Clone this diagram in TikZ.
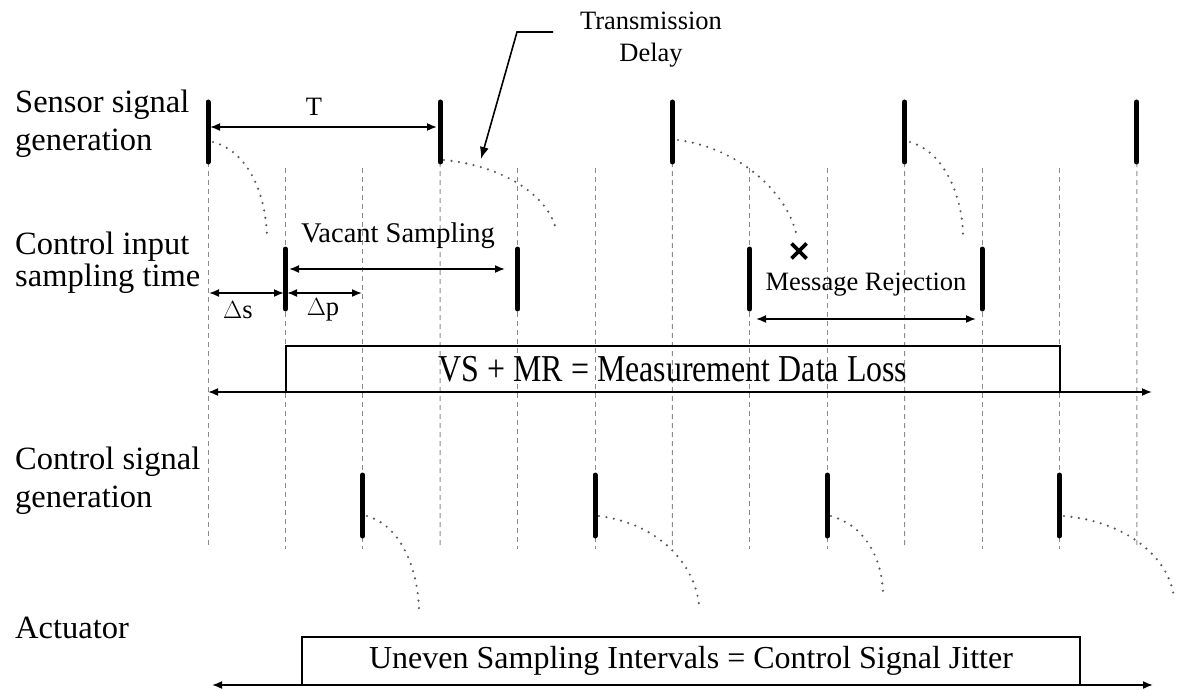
\documentclass[tikz,border=0pt]{standalone}
\usepackage{fontspec}
\setmainfont{Liberation Serif}
\newfontfamily\narrowserif[FakeStretch=0.84]{Liberation Serif}
\usetikzlibrary{arrows.meta,calc}
\begin{document}
\begin{tikzpicture}[x=1pt,y=-1pt,
  gridline/.style={black!45, line width=1pt, dash pattern=on 5pt off 4pt},
  tick/.style={line width=5pt, line cap=round},
  delay/.style={black!65, line width=2.4pt, line cap=round, dash pattern=on 0pt off 7.5pt},
  dim/.style={line width=1.7pt, {Latex[length=10pt,width=8pt]}-{Latex[length=10pt,width=8pt]}},
  lead/.style={line width=1.6pt, -{Latex[length=12pt,width=9pt]}},
  lbl/.style={font=\fontsize{32.5}{38}\selectfont, align=left, inner sep=0pt},
  small/.style={font=\fontsize{26.5}{32}\selectfont, inner sep=0pt},
  band/.style={draw, line width=1.6pt, inner sep=0pt, font=\fontsize{32}{36}\selectfont},
]
\useasboundingbox (0,0) rectangle (1177,690);

% ---- time grid ----
\foreach \i in {0,...,12}{
  \pgfmathsetmacro\gx{208+77.4*\i}
  \coordinate (g\i) at (\gx,168);
  \coordinate (h\i) at (\gx,549);
}
\foreach \i in {1,2,4,5,7,8,10,11} \draw[gridline] (g\i) -- (h\i);

% ---- row labels ----
\node[lbl, anchor=west] (lsensor)  at (15,124) {Sensor signal\\generation};
\node[lbl, anchor=west, font=\fontsize{32.5}{32}\selectfont] (linput) at (15,263) {Control input\\sampling time};
\node[lbl, anchor=west] (lcontrol) at (15,481) {Control signal\\generation};
\node[lbl, anchor=base west] (lact) at (15,638) {Actuator};

% ---- sensor signal generation ----
\foreach \k/\i in {0/0,1/3,2/6,3/9,4/12}{
  \pgfmathsetmacro\sx{208+232.2*\k}
  \coordinate (st\k) at (\sx,102);
  \coordinate (sb\k) at (\sx,162);
  \draw[gridline] (sb\k) -- (h\i);
  \draw[tick] (st\k) -- (sb\k);
}

% ---- control input sampling ----
\foreach \k in {0,...,3}{
  \pgfmathsetmacro\cx{285.4+232.2*\k}
  \coordinate (ct\k) at (\cx,249);
  \coordinate (cb\k) at (\cx,309);
}
\foreach \k in {0,1,2,3} \draw[tick] (ct\k) -- (cb\k);

% ---- control signal generation ----
\foreach \k in {0,...,3}{
  \pgfmathsetmacro\ux{362.8+232.2*\k}
  \coordinate (ut\k) at (\ux,475);
  \coordinate (ub\k) at (\ux,536);
}
\foreach \k in {0,1,2,3} \draw[tick] (ut\k) -- (ub\k);

% ---- transmission delays, sensor -> controller ----
\coordinate (d0a) at (213,142); \coordinate (d0b) at (267,240);
\coordinate (d1a) at (444,160); \coordinate (d1b) at (555,226);
\coordinate (d2a) at (678,140); \coordinate (d2b) at (797,238);
\coordinate (d3a) at (910,142); \coordinate (d3b) at (963,237);
\draw[delay] (d0a) .. controls (250,152) and (267,198) .. (d0b);
\draw[delay] (d1a) .. controls (505,166) and (546,196) .. (d1b);
\draw[delay] (d2a) .. controls (740,148) and (790,195) .. (d2b);
\draw[delay] (d3a) .. controls (945,152) and (963,198) .. (d3b);

% ---- transmission delays, controller -> actuator ----
\coordinate (e0a) at (367,516); \coordinate (e0b) at (419,613);
\coordinate (e1a) at (599,516); \coordinate (e1b) at (699,605);
\coordinate (e2a) at (831,516); \coordinate (e2b) at (883,596);
\coordinate (e3a) at (1064,516); \coordinate (e3b) at (1174,598);
\draw[delay] (e0a) .. controls (402,526) and (419,572) .. (e0b);
\draw[delay] (e1a) .. controls (660,524) and (695,565) .. (e1b);
\draw[delay] (e2a) .. controls (866,526) and (883,560) .. (e2b);
\draw[delay] (e3a) .. controls (1130,522) and (1170,560) .. (e3b);

% ---- rejected message ----
\coordinate (xc) at (799,251);
\draw[line width=3.8pt] ($(xc)+(-7.5,-7.5)$) -- ($(xc)+(7.5,7.5)$);
\draw[line width=3.8pt] ($(xc)+(-7.5,7.5)$) -- ($(xc)+(7.5,-7.5)$);

% ---- period T ----
\coordinate (T0) at (210,127); \coordinate (T1) at (437,127);
\draw[dim] (T0) -- (T1);
\node[small] (tlab) at (314,107) {T};

% ---- transmission delay leader ----
\node[small, align=center] (td) at (651,40) {Transmission\\Delay};
\coordinate (tdl) at (553,32); \coordinate (tdk) at (517,32); \coordinate (tdt) at (481,159);
\draw[lead] (tdl) -- (tdk) -- (tdt);

% ---- vacant sampling and offsets ----
\coordinate (vs0) at (289,269); \coordinate (vs1) at (505,269);
\draw[dim] (vs0) -- (vs1);
\node[small, font=\fontsize{28.5}{32}\selectfont] (vslab) at (398,236) {Vacant Sampling};
\coordinate (ds0) at (209,293); \coordinate (ds1) at (284,293);
\coordinate (dp0) at (287,293); \coordinate (dp1) at (362,293);
\draw[dim] (ds0) -- (ds1);
\draw[dim] (dp0) -- (dp1);
\node[small] (dslab) at (238,310) {$\Delta$s};
\node[small] (dplab) at (323,310) {$\Delta$p};

% ---- message rejection ----
\coordinate (mr0) at (756,319); \coordinate (mr1) at (976,319);
\draw[dim] (mr0) -- (mr1);
\node[small] (mrlab) at (866,285) {Message Rejection};

% ---- measurement data loss ----
\node[band, minimum width=774pt, minimum height=46pt, font=\narrowserif\fontsize{38}{40}\selectfont] (loss) at (673,369) {VS + MR = Measurement Data Loss};
\coordinate (la) at (208,392); \coordinate (lb) at (1152,392);
\draw[dim] (la) -- (lb);

% ---- control signal jitter ----
\node[band, minimum width=778pt, minimum height=48pt] (jit) at (691,661) {Uneven Sampling Intervals = Control Signal Jitter};
\coordinate (ja) at (212,685); \coordinate (jb) at (1153,685);
\draw[dim] (ja) -- (jb);
\end{tikzpicture}
\end{document}
